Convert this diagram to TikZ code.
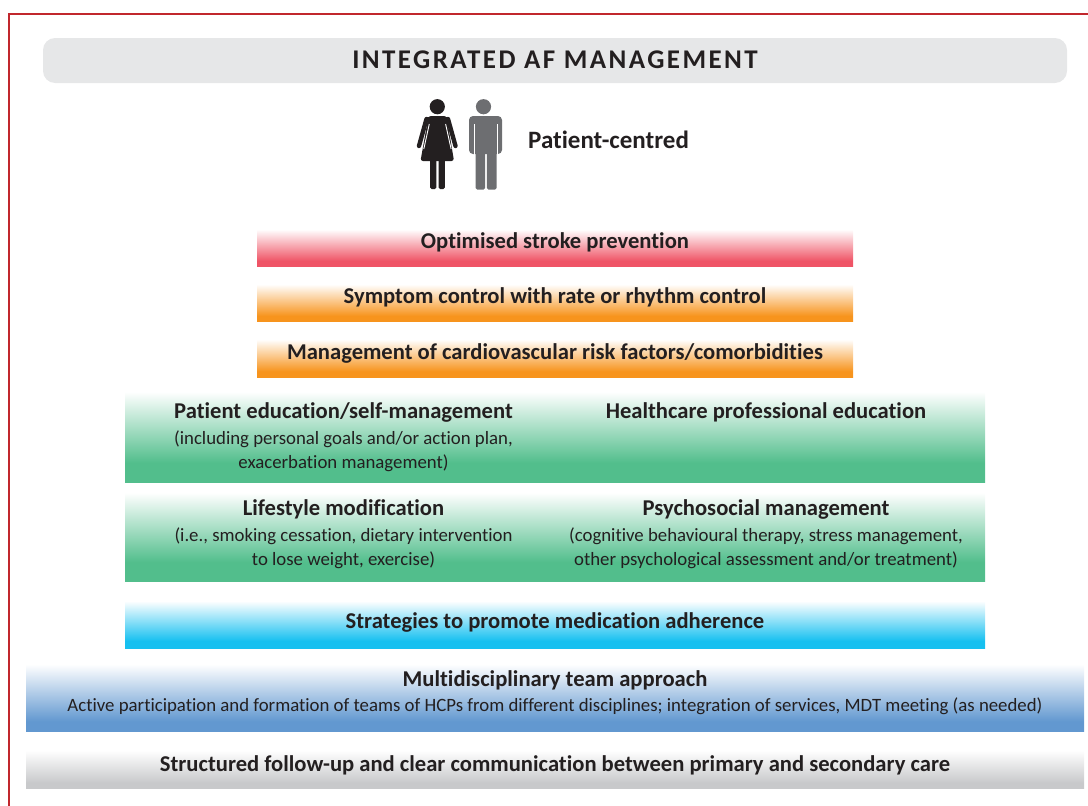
\documentclass[tikz,border=0pt]{standalone}
\usepackage{fontspec}
\setmainfont{Carlito}[Ligatures=NoCommon]
\newfontfamily\titlefont{Carlito}[Ligatures=NoCommon, LetterSpace=9]
\definecolor{txt}{HTML}{231F20}
\definecolor{framec}{HTML}{C1272D}
\definecolor{titlebg}{HTML}{E6E7E8}
\definecolor{cred}{HTML}{EF5466}
\definecolor{corange}{HTML}{F7941D}
\definecolor{cgreen}{HTML}{52BE8C}
\definecolor{ccyan}{HTML}{16C0F0}
\definecolor{cblue}{HTML}{6298D0}
\definecolor{cgray}{HTML}{C8C9CB}
\definecolor{manc}{HTML}{6D6E71}
\pgfdeclareverticalshading{redshade}{100bp}{color(0bp)=(cred); color(32bp)=(cred); color(72bp)=(white); color(100bp)=(white)}
\pgfdeclareverticalshading{orangeshade}{100bp}{color(0bp)=(corange); color(32bp)=(corange); color(72bp)=(white); color(100bp)=(white)}
\pgfdeclareverticalshading{greenshade}{100bp}{color(0bp)=(cgreen); color(35bp)=(cgreen); color(72bp)=(white); color(100bp)=(white)}
\pgfdeclareverticalshading{cyanshade}{100bp}{color(0bp)=(ccyan); color(32bp)=(ccyan); color(72bp)=(white); color(100bp)=(white)}
\pgfdeclareverticalshading{blueshade}{100bp}{color(0bp)=(cblue); color(32bp)=(cblue); color(74bp)=(white); color(100bp)=(white)}
\pgfdeclareverticalshading{grayshade}{100bp}{color(0bp)=(cgray); color(32bp)=(cgray); color(72bp)=(white); color(100bp)=(white)}
\tikzset{
  head/.style={font=\bfseries\fontsize{22.6}{26}\selectfont, text=txt, inner sep=0pt, anchor=base},
  sub/.style={font=\fontsize{18.8}{22}\selectfont, text=txt, inner sep=0pt, anchor=base},
}
\begin{document}
\begin{tikzpicture}[x=1pt,y=-1pt]
\useasboundingbox (0,0) rectangle (1088,806);
% frame
\draw[framec, line width=2.6pt] (9,806) -- (9,14) -- (1088,14);
% title
\fill[titlebg, rounded corners=12pt] (43,38) rectangle (1067,83);
\node[head, font=\titlefont\bfseries\fontsize{27}{30}\selectfont] (title) at (555,68) {INTEGRATED AF MANAGEMENT};
% woman
\fill[txt] (437.3,106.7) circle (7.6);
\fill[txt, rounded corners=2.5pt] (428.5,116) -- (446.5,116) -- (454,161) -- (420.5,161) -- cycle;
\draw[txt, line width=4.4pt, line cap=round] (426.5,119) -- (419,146);
\draw[txt, line width=4.4pt, line cap=round] (448,119) -- (455.5,146);
\fill[txt] (426,116.5) rectangle (430,120.5);
\fill[txt] (445,116.5) rectangle (449,120.5);
\draw[white, line width=0.9pt] (429.3,124) -- (423.8,149);
\draw[white, line width=0.9pt] (445.6,124) -- (451.1,149);
\fill[txt, rounded corners=1.5pt] (430,158) rectangle (436.3,189);
\fill[txt, rounded corners=1.5pt] (438.5,158) rectangle (444.8,189);
% man
\fill[manc] (483.5,106.7) circle (7.6);
\fill[manc, rounded corners=4pt] (469,116) rectangle (502,154);
\fill[manc] (469,140) rectangle (502,150);
\fill[manc, rounded corners=1.5pt] (475.5,148) rectangle (485.2,189.5);
\fill[manc, rounded corners=1.5pt] (486.8,148) rectangle (496.5,189.5);
\draw[white, line width=1pt] (474,124) -- (474,155);
\draw[white, line width=1pt] (497.5,124) -- (497.5,155);
\node[head, font=\bfseries\fontsize{25}{30}\selectfont, anchor=base west] (pc) at (528,148) {Patient-centred};
% band 1-3
\shade[shading=redshade] (257,227) rectangle (853,266.5);
\node[head] (stroke) at (555,248) {Optimised stroke prevention};
\shade[shading=orangeshade] (257,282) rectangle (853,321.5);
\node[head] (symptom) at (555,303) {Symptom control with rate or rhythm control};
\shade[shading=orangeshade] (257,337) rectangle (853,377);
\node[head] (cardio) at (555,359) {Management of cardiovascular risk factors/comorbidities};
% green bands
\shade[shading=greenshade] (125,386) rectangle (985,482);
\node[head] (pe) at (343.5,418) {Patient education/self-management};
\node[sub] (pe1) at (343.5,444) {(including personal goals and/or action plan,};
\node[sub] (pe2) at (343.5,468.5) {exacerbation management)};
\node[head] (hpe) at (766,418) {Healthcare professional education};
\shade[shading=greenshade] (125,487) rectangle (985,581);
\node[head] (life) at (343.5,515) {Lifestyle modification};
\node[sub] (life1) at (343.5,541) {(i.e., smoking cessation, dietary intervention};
\node[sub] (life2) at (343.5,565) {to lose weight, exercise)};
\node[head] (psy) at (766,515) {Psychosocial management};
\node[sub] (psy1) at (766,541) {(cognitive behavioural therapy, stress management,};
\node[sub] (psy2) at (766,565) {other psychological assessment and/or treatment)};
% cyan
\shade[shading=cyanshade] (125,598) rectangle (985,648);
\node[head] (adh) at (555,628) {Strategies to promote medication adherence};
% blue
\shade[shading=blueshade] (26,663) rectangle (1084,731);
\node[head] (mdt) at (555,686) {Multidisciplinary team approach};
\node[sub] (mdt1) at (555,711) {Active participation and formation of teams of HCPs from different disciplines; integration of services, MDT meeting (as needed)};
% gray
\shade[shading=grayshade] (26,748) rectangle (1084,788.5);
\node[head] (fu) at (555,771) {Structured follow-up and clear communication between primary and secondary care};
\end{tikzpicture}
\end{document}
